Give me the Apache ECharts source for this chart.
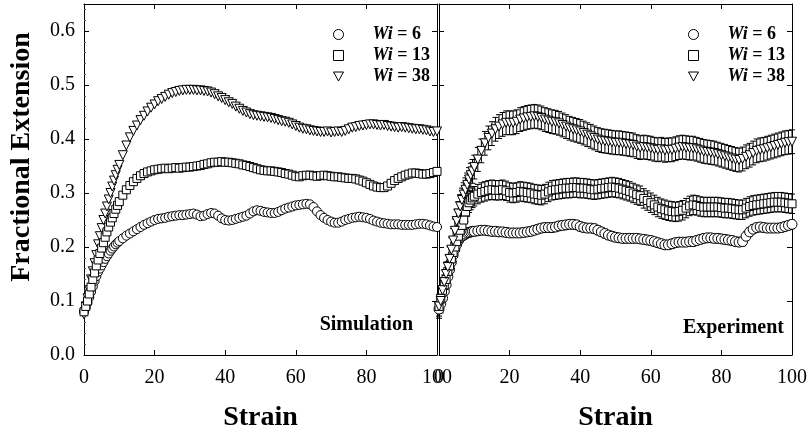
<!DOCTYPE html>
<html><head><meta charset="utf-8">
<script src="https://cdn.jsdelivr.net/npm/echarts@6/dist/echarts.min.js"></script>
<style>html,body{margin:0;padding:0;background:#fff}#c{width:808px;height:434px}</style>
</head><body><div id="c"></div>
<script>
// ---- data ----
const strain = [0,0.5,1,1.5,2,2.5,3,3.5,4,4.5,5,5.5,6,6.5,7,7.5,8,8.5,9,9.5,10,
11,12,13,14,15,16,17,18,19,20,21,22,23,24,25,26,27,28,29,30,31,32,33,34,35,36,37,38,39,40,
41,42,43,44,45,46,47,48,49,50,51,52,53,54,55,56,57,58,59,60,61,62,63,64,65,66,67,68,69,70,
71,72,73,74,75,76,77,78,79,80,81,82,83,84,85,86,87,88,89,90,91,92,93,94,95,96,97,98,99,100];

const simW6 = [0.08,0.088,0.097,0.107,0.117,0.127,0.137,0.146,0.154,0.16,0.166,0.172,0.178,0.183,0.188,0.193,0.197,0.201,0.205,0.208,0.211,
0.216,0.221,0.225,0.229,0.233,0.237,0.241,0.244,0.247,0.25, 0.252,0.253,0.254,0.256,0.257,0.258,0.259,0.259,0.26,0.261,
0.262,0.26,0.257,0.258,0.261,0.263,0.262,0.258,0.253,0.25, 0.249,0.25,0.252,0.254,0.256,0.258,0.262,0.266,0.268,0.267,
0.265,0.264,0.263,0.263,0.265,0.268,0.271,0.273,0.275,0.277, 0.278,0.279,0.28,0.279,0.274,0.266,0.259,0.254,0.25,0.247,
0.245,0.245,0.247,0.25,0.252,0.254,0.255,0.256,0.255,0.254, 0.252,0.249,0.247,0.245,0.244,0.243,0.242,0.242,0.242,0.241,
0.241,0.241,0.241,0.242,0.243,0.243,0.242,0.24,0.238,0.237];

const simW13 = [0.08,0.09,0.1,0.113,0.126,0.14,0.152,0.165,0.176,0.188,0.198,0.208,0.218,0.228,0.237,0.246,0.254,0.262,0.27,0.277,0.284,
0.296,0.306,0.314,0.321,0.327,0.332,0.336,0.339,0.341,0.343, 0.344,0.345,0.346,0.345,0.346,0.347,0.346,0.347,0.348,0.348,
0.349,0.35,0.351,0.353,0.354,0.356,0.357,0.357,0.358,0.357, 0.357,0.356,0.355,0.354,0.352,0.351,0.349,0.347,0.345,0.343,
0.342,0.341,0.341,0.34,0.339,0.338,0.336,0.335,0.333,0.331, 0.33,0.332,0.333,0.333,0.332,0.331,0.332,0.333,0.332,0.331,
0.33,0.33,0.329,0.328,0.327,0.327,0.326,0.324,0.322,0.319, 0.316,0.313,0.311,0.31,0.31,0.313,0.318,0.323,0.327,0.33,
0.333,0.335,0.337,0.337,0.336,0.335,0.335,0.336,0.338,0.34];

const simW38 = [0.075,0.09,0.105,0.12,0.14,0.155,0.17,0.185,0.205,0.22,0.235,0.25,0.262,0.275,0.288,0.3,0.312,0.323,0.333,0.343,0.352,
0.37,0.388,0.403,0.415,0.425,0.435,0.443,0.451,0.458,0.464, 0.47,0.474,0.478,0.482,0.485,0.487,0.489,0.49,0.491,0.491,
0.491,0.49,0.49,0.489,0.488,0.486,0.483,0.479,0.476,0.472, 0.468,0.465,0.46,0.456,0.452,0.449,0.446,0.444,0.443,0.442,
0.441,0.44,0.439,0.437,0.435,0.433,0.432,0.43,0.427,0.424, 0.421,0.419,0.418,0.416,0.415,0.414,0.413,0.413,0.414,0.412,
0.413,0.414,0.413,0.415,0.418,0.421,0.422,0.424,0.425,0.426, 0.427,0.427,0.426,0.425,0.426,0.424,0.423,0.422,0.421,0.422,
0.421,0.42,0.419,0.418,0.418,0.417,0.416,0.414,0.413,0.414];

const expW6 = [0.085,0.095,0.105,0.118,0.13,0.145,0.158,0.172,0.185,0.196,0.205,0.212,0.217,0.22,0.222,0.224,0.226,0.227,0.228,0.229,0.229,
0.23,0.231,0.231,0.23,0.229,0.229,0.228,0.228,0.227,0.226, 0.226,0.226,0.226,0.227,0.228,0.229,0.231,0.233,0.235,0.236,
0.236,0.236,0.237,0.239,0.24,0.241,0.242,0.242,0.241,0.238, 0.236,0.235,0.235,0.234,0.231,0.228,0.225,0.222,0.22,0.218,
0.217,0.216,0.216,0.216,0.216,0.216,0.215,0.214,0.213,0.212, 0.21,0.208,0.206,0.204,0.204,0.206,0.208,0.209,0.209,0.209,
0.21,0.21,0.212,0.214,0.216,0.217,0.217,0.216,0.216,0.215, 0.214,0.213,0.212,0.21,0.209,0.21,0.22,0.228,0.233,0.236,
0.237,0.236,0.235,0.235,0.235,0.235,0.236,0.238,0.24,0.242];

const expW13 = [0.09,0.105,0.12,0.13,0.14,0.155,0.165,0.178,0.19,0.2,0.21,0.22,0.231,0.24,0.25,0.265,0.275,0.282,0.287,0.291,0.294,
0.298,0.301,0.303,0.305,0.306,0.305,0.305,0.306,0.304,0.301, 0.3,0.301,0.303,0.302,0.301,0.3,0.298,0.297,0.296,0.298,
0.302,0.305,0.306,0.307,0.308,0.309,0.309,0.31,0.31,0.309, 0.309,0.308,0.307,0.306,0.307,0.308,0.309,0.31,0.311,0.31,
0.309,0.307,0.305,0.303,0.3,0.297,0.295,0.29,0.286,0.282, 0.278,0.274,0.271,0.269,0.267,0.266,0.265,0.266,0.268,0.272,
0.276,0.278,0.277,0.275,0.274,0.274,0.274,0.274,0.274,0.273, 0.272,0.272,0.271,0.27,0.269,0.269,0.272,0.275,0.277,0.278,
0.279,0.28,0.281,0.282,0.283,0.283,0.283,0.282,0.281,0.28];

const expW38 = [0.09,0.1,0.12,0.135,0.15,0.163,0.178,0.195,0.212,0.23,0.248,0.262,0.275,0.287,0.297,0.306,0.315,0.325,0.333,0.34,0.348,
0.362,0.378,0.392,0.402,0.41,0.418,0.423,0.427,0.43,0.43, 0.43,0.432,0.436,0.438,0.44,0.441,0.442,0.441,0.439,0.436,
0.434,0.432,0.431,0.429,0.426,0.423,0.42,0.418,0.416,0.414, 0.411,0.408,0.405,0.402,0.399,0.397,0.396,0.395,0.394,0.393,
0.393,0.392,0.391,0.39,0.389,0.386,0.384,0.385,0.384,0.383, 0.381,0.38,0.381,0.379,0.38,0.38,0.382,0.384,0.385,0.384,
0.383,0.383,0.381,0.379,0.377,0.376,0.375,0.374,0.372,0.37, 0.368,0.366,0.364,0.362,0.361,0.363,0.367,0.37,0.374,0.378,
0.38,0.381,0.383,0.385,0.387,0.389,0.391,0.393,0.394,0.395];

// estimated half-widths of the experimental error bars (Wi = 6, 13, 38)
const expErr = [0.008, 0.018, 0.022];

const seriesNames = ['Wi = 6', 'Wi = 13', 'Wi = 38'];
const xTickValues = [0, 20, 40, 60, 80, 100];
const yTickValues = [0.0, 0.1, 0.2, 0.3, 0.4, 0.5, 0.6];
const panelLabels = ['Simulation', 'Experiment'];
const yTitle = 'Fractional Extension';
const xTitle = 'Strain';

// ---- chart ----
const FONT = "'Liberation Serif','Times New Roman',serif";
const pairs = (xs, ys) => xs.map((x, i) => [x, ys[i]]);
const triples = (xs, ys, e) => xs.map((x, i) => [x, ys[i], e]);

const chart = echarts.init(document.getElementById('c'), null, {renderer: 'canvas'});

const symbols = [
  {symbol: 'circle', symbolSize: 9, symbolRotate: 0},
  {symbol: 'rect', symbolSize: 8, symbolRotate: 0},
  {symbol: 'triangle', symbolSize: 9, symbolRotate: 180}
];
const legendIcons = ['circle', 'rect', 'path://M0,0 L10,0 L5,9 Z'];
const markStyle = {color: '#fff', borderColor: '#000', borderWidth: 1, opacity: 1};

function scatter(name, k, panel, ys, z, size) {
  return {
    type: 'scatter', name: name, xAxisIndex: panel, yAxisIndex: panel * 2,
    data: pairs(strain, ys), symbol: symbols[k].symbol, symbolSize: size || symbols[k].symbolSize,
    symbolRotate: symbols[k].symbolRotate, itemStyle: markStyle, z: z,
    emphasis: {disabled: true}, silent: true, animation: false
  };
}
function errBars(k, ys) {
  return {
    type: 'custom', name: 'err' + k, xAxisIndex: 1, yAxisIndex: 2, z: 1, silent: true, animation: false,
    data: triples(strain, ys, expErr[k]), encode: {x: 0, y: 1},
    renderItem: function (params, api) {
      const x = api.value(0), y = api.value(1), e = api.value(2);
      const t = api.coord([x, y + e]), b = api.coord([x, y - e]);
      const cw = 3, st = {stroke: '#000', lineWidth: 1};
      return {type: 'group', children: [
        {type: 'line', shape: {x1: t[0], y1: t[1], x2: b[0], y2: b[1]}, style: st},
        {type: 'line', shape: {x1: t[0] - cw, y1: t[1], x2: t[0] + cw, y2: t[1]}, style: st},
        {type: 'line', shape: {x1: b[0] - cw, y1: b[1], x2: b[0] + cw, y2: b[1]}, style: st}
      ]};
    }
  };
}

const axisTickIn = {show: true, inside: true, length: 5, lineStyle: {color: '#000', width: 1}};
function xAx(grid, pos, labels) {
  return {
    gridIndex: grid, type: 'value', position: pos, min: 0, max: 100, interval: 20,
    axisLine: {show: true, onZero: false, lineStyle: {color: '#000', width: 1}},
    axisTick: axisTickIn, splitLine: {show: false},
    axisLabel: labels ? {show: true, fontFamily: FONT, fontSize: 20, color: '#000', margin: 13,
      formatter: v => (xTickValues.indexOf(v) >= 0 ? String(v) : '')} : {show: false},
    name: labels ? xTitle : '', nameLocation: 'middle', nameGap: 49,
    nameTextStyle: {fontFamily: FONT, fontSize: 28, fontWeight: 'bold', color: '#000'}
  };
}
function yAx(grid, pos, labels) {
  return {
    gridIndex: grid, type: 'value', position: pos, min: 0, max: 0.65, interval: 0.1,
    axisLine: {show: true, onZero: false, lineStyle: {color: '#000', width: 1}},
    axisTick: axisTickIn, splitLine: {show: false},
    minorTick: {show: labels, splitNumber: 5, length: 2, lineStyle: {color: '#555', width: 1}},
    axisLabel: labels ? {show: true, fontFamily: FONT, fontSize: 20, color: '#000', margin: 9,
      formatter: v => (yTickValues.some(t => Math.abs(t - v) < 1e-9) ? v.toFixed(1) : '')} : {show: false}
  };
}

const legendRich = {
  s: {width: 24},
  i: {fontFamily: FONT, fontSize: 18, fontWeight: 'bold', fontStyle: 'italic', color: '#000', lineHeight: 21},
  b: {fontFamily: FONT, fontSize: 18, fontWeight: 'bold', color: '#000', lineHeight: 21}
};
function legend(left) {
  return {
    data: seriesNames.map((n, i) => ({name: n, icon: legendIcons[i]})),
    left: left, top: 24, orient: 'vertical', itemWidth: 10, itemHeight: 10,
    itemGap: 0, selectedMode: false, padding: 0,
    itemStyle: {color: '#fff', borderColor: '#000', borderWidth: 1},
    textStyle: {fontFamily: FONT, fontSize: 18, lineHeight: 21, rich: legendRich, padding: 0},
    formatter: n => '{s|}{i|Wi} {b|' + n.replace('Wi ', '') + '}'
  };
}

const option = {
  animation: false,
  backgroundColor: '#fff',
  grid: [
    {left: 84, right: 371, top: 4, bottom: 79, show: false, outerBoundsMode: 'none', containLabel: false},
    {left: 439, right: 16, top: 4, bottom: 79, show: false, outerBoundsMode: 'none', containLabel: false}
  ],
  xAxis: [xAx(0, 'bottom', true), xAx(1, 'bottom', true), xAx(0, 'top', false), xAx(1, 'top', false)],
  yAxis: [yAx(0, 'left', true), yAx(0, 'right', false), yAx(1, 'left', false), yAx(1, 'right', false)],
  legend: [legend(333), legend(688)],
  graphic: [
    {type: 'text', x: 22, y: 157, rotation: Math.PI / 2,
      style: {text: yTitle, font: 'bold 28px ' + FONT, fill: '#000', textAlign: 'center', textVerticalAlign: 'middle'}},
    {type: 'text', x: 413, y: 325, style: {text: panelLabels[0], font: 'bold 20px ' + FONT, fill: '#000', textAlign: 'right', textVerticalAlign: 'middle'}},
    {type: 'text', x: 784, y: 328, style: {text: panelLabels[1], font: 'bold 20px ' + FONT, fill: '#000', textAlign: 'right', textVerticalAlign: 'middle'}}
  ],
  series: [
    scatter(seriesNames[0], 0, 0, simW6, 2),
    scatter(seriesNames[2], 2, 0, simW38, 3),
    scatter(seriesNames[1], 1, 0, simW13, 4),
    errBars(0, expW6), errBars(1, expW13), errBars(2, expW38),
    scatter(seriesNames[0], 0, 1, expW6, 2, 10),
    scatter(seriesNames[1], 1, 1, expW13, 3),
    scatter(seriesNames[2], 2, 1, expW38, 4)
  ]
};
chart.setOption(option);
</script></body></html>
